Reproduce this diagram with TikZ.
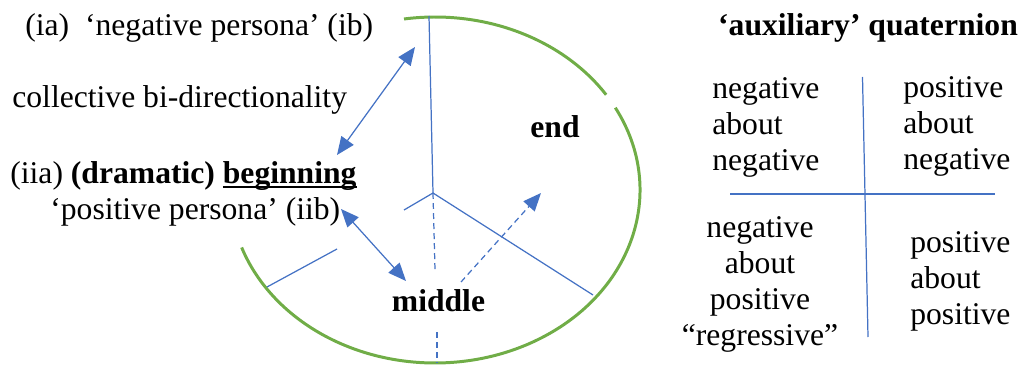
\documentclass[tikz,border=0pt]{standalone}
\usepackage{fontspec}
\setmainfont{Liberation Serif}
\usepackage{tikz}
\usetikzlibrary{arrows.meta}
\definecolor{ink}{HTML}{000000}
\definecolor{spoke}{HTML}{4472C4}
\definecolor{rim}{HTML}{70AD47}
\newcommand{\bodyfont}{\fontsize{18}{20.5}\selectfont}
\newcommand{\underword}[1]{\setbox0\hbox{#1}\rlap{\rule[-0.13em]{\wd0}{0.065em}}\box0}

\begin{document}
\begin{tikzpicture}[font=\bodyfont,
  txt/.style={inner sep=0pt,color=ink},
  boldtxt/.style={txt,font=\bodyfont\bfseries},
  spokeline/.style={draw=spoke,line width=0.7pt},
  dashline/.style={spokeline,dash pattern=on 3.4pt off 2.3pt},
  rimline/.style={draw=rim,line width=1.7pt},
  tipped/.style={-{Triangle[length=0.36cm,width=0.30cm]}},
  bothtipped/.style={{Triangle[length=0.36cm,width=0.30cm]}-{Triangle[length=0.36cm,width=0.30cm]}}]
  \useasboundingbox (0,0) rectangle (20.5,7.3);

  \node[txt,anchor=west] (persN) at (0.50,6.74) {(ia)\ \ ‘negative persona’ (ib)};
  \node[txt,anchor=west] (collect) at (0.24,5.30) {collective bi-directionality};
  \node[txt,anchor=west] (begin) at (0.20,3.78) {(iia) \textbf{(dramatic) \underword{beginning}}};
  \node[txt,anchor=west] (persP) at (1.00,3.06) {‘positive persona’ (iib)};
  \node[boldtxt] (endlbl) at (11.10,4.76) {end};
  \node[boldtxt] (midlbl) at (8.77,1.28) {middle};

  \coordinate (ctr) at (8.70,3.50);
  \coordinate (hub) at (8.66,3.44);
  \coordinate (spokeN) at (8.58,6.98);
  \coordinate (spokeE) at (11.86,1.40);
  \coordinate (spokeWa) at (8.08,3.10);
  \coordinate (spokeWb) at (6.74,2.32);
  \coordinate (spokeWc) at (5.34,1.56);
  \coordinate (dashA) at (8.70,1.90);
  \coordinate (dashB) at (8.74,0.66);
  \coordinate (dashC) at (8.74,0.04);

  \draw[rimline] (ctr) ++(98.7:4.10cm and 3.46cm) arc[start angle=98.7,end angle=33.4,x radius=4.10cm,y radius=3.46cm];
  \draw[rimline] (ctr) ++(28.4:4.10cm and 3.46cm) arc[start angle=28.4,end angle=-160.6,x radius=4.10cm,y radius=3.46cm];

  \draw[spokeline] (spokeN) -- (hub) -- (spokeE);
  \draw[spokeline] (hub) -- (spokeWa);
  \draw[spokeline] (spokeWb) -- (spokeWc);
  \draw[dashline] (hub) -- (dashA);
  \draw[dashline] (dashB) -- (dashC);

  \coordinate (upA) at (8.30,6.36);
  \coordinate (upB) at (6.74,4.20);
  \coordinate (lowA) at (6.82,3.12);
  \coordinate (lowB) at (8.12,1.68);
  \coordinate (riseA) at (9.22,1.66);
  \coordinate (riseB) at (10.82,3.44);
  \draw[spokeline,bothtipped] (upA) -- (upB);
  \draw[spokeline,bothtipped] (lowA) -- (lowB);
  \draw[dashline,tipped] (riseA) -- (riseB);

  \node[boldtxt] (quatT) at (17.36,6.74) {‘auxiliary’ quaternion};
  \coordinate (qTop) at (17.25,5.76);
  \coordinate (qBot) at (17.36,0.56);
  \coordinate (qLeft) at (14.60,3.42);
  \coordinate (qRight) at (19.90,3.42);
  \draw[spokeline] (qTop) -- (qBot);
  \draw[spokeline] (qLeft) -- (qRight);

  \node[txt,anchor=west,align=left] (qNN) at (14.24,4.75) {negative\\about\\negative};
  \node[txt,anchor=west,align=left] (qPN) at (18.06,4.77) {positive\\about\\negative};
  \node[txt,align=center] (qNP) at (15.20,1.61) {negative\\about\\positive\\“regressive”};
  \node[txt,anchor=west,align=left] (qPP) at (18.20,1.67) {positive\\about\\positive};
\end{tikzpicture}
\end{document}
